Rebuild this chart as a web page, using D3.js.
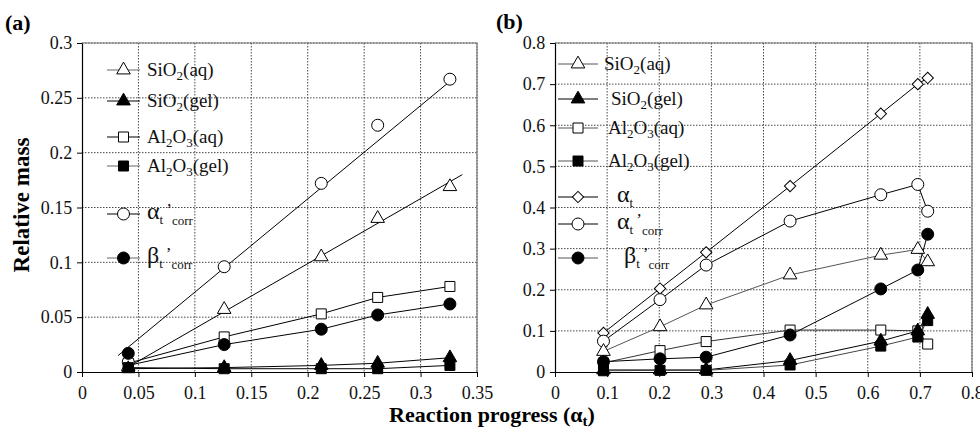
<!DOCTYPE html>
<html><head><meta charset="utf-8">
<script src="https://cdn.jsdelivr.net/npm/d3@7"></script>
<style>body{margin:0;background:#fff}svg{display:block}</style>
</head><body><svg id="c" width="980" height="431"></svg>
<script>
// ---------- DATA ----------
const aX = [0.041, 0.126, 0.212, 0.262, 0.326];
const aSiO2aq = [0.005, 0.057, 0.105, 0.140, 0.169];
const aSiO2gel = [0.003, 0.004, 0.006, 0.008, 0.013];
const aAl2O3aq = [0.008, 0.032, 0.053, 0.068, 0.078];
const aAl2O3gel = [0.004, 0.003, 0.003, 0.003, 0.006];
const aAlphaCorr = [0.009, 0.096, 0.172, 0.225, 0.267];
const aBetaCorr = [0.017, 0.025, 0.039, 0.052, 0.062];
// fitted / drawn lines in panel (a)
const aFitAlphaX = [0.032, 0.326], aFitAlphaY = [0.015, 0.265];
const aFitSiO2X = [0.045, 0.337], aFitSiO2Y = [0.007, 0.180];
const aBetaLineY = [0.006, 0.025, 0.039, 0.052, 0.062];

const bX = [0.093, 0.2015, 0.29, 0.451, 0.625, 0.696, 0.715];
const bSiO2aq = [0.050, 0.110, 0.163, 0.236, 0.284, 0.298, 0.268];
const bSiO2gel = [0.005, 0.005, 0.005, 0.028, 0.075, 0.100, 0.140];
const bAl2O3aq = [0.022, 0.052, 0.074, 0.102, 0.102, 0.100, 0.068];
const bAl2O3gel = [0.003, 0.004, 0.004, 0.017, 0.063, 0.085, 0.125];
const bAlphaT = [0.095, 0.203, 0.291, 0.452, 0.628, 0.700, 0.715];
const bAlphaCorr = [0.075, 0.176, 0.260, 0.367, 0.431, 0.456, 0.391];
const bBetaCorr = [0.025, 0.032, 0.036, 0.090, 0.202, 0.248, 0.335];

const aXTicks = [0, 0.05, 0.1, 0.15, 0.2, 0.25, 0.3, 0.35];
const aYTicks = [0, 0.05, 0.1, 0.15, 0.2, 0.25, 0.3];
const bXTicks = [0, 0.1, 0.2, 0.3, 0.4, 0.5, 0.6, 0.7, 0.8];
const bYTicks = [0, 0.1, 0.2, 0.3, 0.4, 0.5, 0.6, 0.7, 0.8];

// ---------- DRAW ----------
const FONT = "'Liberation Serif'";
const svg = d3.select("#c");

const sym = {
  triO: {type: d3.symbolTriangle, size: 80, fill: "#fff"},
  triF: {type: d3.symbolTriangle, size: 80, fill: "#000"},
  sqO: {type: d3.symbolSquare, size: 100, fill: "#fff"},
  sqF: {type: d3.symbolSquare, size: 100, fill: "#000"},
  cirO: {type: d3.symbolCircle, size: 113, fill: "#fff"},
  cirF: {type: d3.symbolCircle, size: 113, fill: "#000"},
  dia: {type: d3.symbolSquare, size: 64, fill: "#fff", rot: 45}
};
function drawSym(g, s, x, y) {
  g.append("path").attr("d", d3.symbol().type(s.type).size(s.size)())
    .attr("transform", `translate(${x},${y})` + (s.rot ? ` rotate(${s.rot})` : ""))
    .attr("fill", s.fill).attr("stroke", "#000").attr("stroke-width", 1);
}

function panel(cfg) {
  const x = d3.scaleLinear().domain(cfg.xd).range([cfg.x0, cfg.x1]);
  const y = d3.scaleLinear().domain(cfg.yd).range([cfg.y1, cfg.y0]);
  const g = svg.append("g");
  g.selectAll(".gx").data(cfg.xt.slice(1)).join("line")
    .attr("x1", d => x(d)).attr("x2", d => x(d)).attr("y1", cfg.y0).attr("y2", cfg.y1)
    .attr("stroke", "#333").attr("stroke-dasharray", "1.5,1.5").attr("stroke-width", 0.9);
  g.selectAll(".gy").data(cfg.yt.slice(1)).join("line")
    .attr("y1", d => y(d)).attr("y2", d => y(d)).attr("x1", cfg.x0).attr("x2", cfg.x1)
    .attr("stroke", "#333").attr("stroke-dasharray", "1.5,1.5").attr("stroke-width", 0.9);
  g.append("path").attr("d", `M${cfg.x0},${cfg.y0}H${cfg.x1}V${cfg.y1}`)
    .attr("fill", "none").attr("stroke", "#777").attr("stroke-width", 1.2);
  const ax = g.append("g").attr("transform", `translate(0,${cfg.y1})`)
    .call(d3.axisBottom(x).tickValues(cfg.xt).tickSize(5).tickSizeOuter(0).tickFormat(d3.format("~g")));
  const ay = g.append("g").attr("transform", `translate(${cfg.x0},0)`)
    .call(d3.axisLeft(y).tickValues(cfg.yt).tickSize(5).tickSizeOuter(0).tickFormat(d3.format("~g")));
  [ax, ay].forEach(a => {
    a.attr("font-size", 18);
    a.select(".domain").attr("stroke", "#000").attr("stroke-width", 1.2);
    a.selectAll("text").attr("fill", "#111").style("font-size", "18px");
  });
  ax.selectAll("text").attr("dy", "1.05em");
  ay.selectAll("text").attr("dx", "-0.1em");
  const line = d3.line().x(d => x(d[0])).y(d => y(d[1]));
  cfg.lines.forEach(l => {
    g.append("path").attr("d", line(d3.zip(l.x, l.y))).attr("fill", "none")
      .attr("stroke", l.c || "#000").attr("stroke-width", l.w || 1);
  });
  cfg.series.forEach(s => {
    s.y.forEach((v, i) => drawSym(g, sym[s.sym], x(cfg.xs[i]), y(v)));
  });
  return {x, y, g};
}

panel({
  x0: 82, x1: 477, y0: 43, y1: 372, xd: [0, 0.35], yd: [0, 0.3], xt: aXTicks, yt: aYTicks, xs: aX,
  lines: [
    {x: aFitAlphaX, y: aFitAlphaY},
    {x: aFitSiO2X, y: aFitSiO2Y},
    {x: aX, y: aAl2O3aq},
    {x: aX, y: aBetaLineY},
    {x: aX, y: aSiO2gel},
    {x: aX, y: aAl2O3gel}
  ],
  series: [
    {y: aSiO2aq, sym: "triO"}, {y: aAl2O3aq, sym: "sqO"}, {y: aAlphaCorr, sym: "cirO"},
    {y: aBetaCorr, sym: "cirF"}, {y: aSiO2gel, sym: "triF"}, {y: aAl2O3gel, sym: "sqF"}
  ]
});

panel({
  x0: 555, x1: 972, y0: 43, y1: 372, xd: [0, 0.8], yd: [0, 0.8], xt: bXTicks, yt: bYTicks, xs: bX,
  lines: [
    {x: bX, y: bAlphaT}, {x: bX, y: bAlphaCorr}, {x: bX, y: bSiO2aq, c: "#555"},
    {x: bX, y: bAl2O3aq, c: "#333"}, {x: bX, y: bBetaCorr}, {x: bX, y: bSiO2gel},
    {x: bX, y: bAl2O3gel, c: "#444"}
  ],
  series: [
    {y: bAlphaT, sym: "dia"}, {y: bAlphaCorr, sym: "cirO"}, {y: bSiO2aq, sym: "triO"},
    {y: bAl2O3aq, sym: "sqO"}, {y: bBetaCorr, sym: "cirF"}, {y: bSiO2gel, sym: "triF"},
    {y: bAl2O3gel, sym: "sqF"}
  ]
});

// ---------- LEGENDS ----------
function chem(t, x, y, parts) {
  const tx = t.append("text").attr("x", x).attr("y", y).attr("font-size", 19).attr("fill", "#111");
  parts.forEach(p => {
    const s = tx.append("tspan").text(p[0]);
    if (p[1] === "sub") s.attr("font-size", 13).attr("dy", 4);
    else if (p[1] === "up") s.attr("dy", -4);
  });
}
const lbl = {
  SiO2aq: [["SiO"], ["2", "sub"], ["(aq)", "up"]],
  SiO2gel: [["SiO"], ["2", "sub"], ["(gel)", "up"]],
  Al2O3aq: [["Al"], ["2", "sub"], ["O", "up"], ["3", "sub"], ["(aq)", "up"]],
  Al2O3gel: [["Al"], ["2", "sub"], ["O", "up"], ["3", "sub"], ["(gel)", "up"]]
};
function greek(g, x, y, ch, corr) {
  const t = g.append("text").attr("x", x).attr("y", y).attr("fill", "#111");
  t.append("tspan").text(ch).attr("font-size", 24);
  t.append("tspan").text("t").attr("font-size", 13).attr("dy", 5);
  if (corr) {
    t.append("tspan").text("’").attr("font-size", 17).attr("dx", 3).attr("dy", -9);
    t.append("tspan").text("corr").attr("font-size", 13).attr("dy", 10);
  }
}
function legend(items, lx0, lx1) {
  const g = svg.append("g");
  items.forEach(it => {
    g.append("line").attr("x1", lx0).attr("x2", lx1).attr("y1", it.y).attr("y2", it.y)
      .attr("stroke", it.lc || "#000").attr("stroke-width", 1);
    drawSym(g, sym[it.sym], (lx0 + lx1) / 2, it.y);
    if (it.chem) chem(g, it.tx, it.y + 6, lbl[it.chem]);
    else greek(g, it.tx, it.y + 5, it.g, it.corr);
  });
}
legend([
  {y: 70, sym: "triO", chem: "SiO2aq", tx: 147, lc: "#666"},
  {y: 101, sym: "triF", chem: "SiO2gel", tx: 147},
  {y: 137, sym: "sqO", chem: "Al2O3aq", tx: 147},
  {y: 166, sym: "sqF", chem: "Al2O3gel", tx: 147, lc: "#666"},
  {y: 214, sym: "cirO", g: "α", corr: true, tx: 147},
  {y: 258, sym: "cirF", g: "β", corr: true, tx: 147, lc: "#666"}
], 107, 140);
legend([
  {y: 64, sym: "triO", chem: "SiO2aq", tx: 604, lc: "#555"},
  {y: 99, sym: "triF", chem: "SiO2gel", tx: 611},
  {y: 128, sym: "sqO", chem: "Al2O3aq", tx: 608, lc: "#555"},
  {y: 161, sym: "sqF", chem: "Al2O3gel", tx: 608, lc: "#555"},
  {y: 197, sym: "dia", g: "α", corr: false, tx: 617},
  {y: 224, sym: "cirO", g: "α", corr: true, tx: 617},
  {y: 258, sym: "cirF", g: "β", corr: true, tx: 624, lc: "#555"}
], 558, 598);

// ---------- LABELS ----------
svg.append("text").attr("x", 5).attr("y", 30).attr("font-size", 22).attr("font-weight", "bold").text("(a)");
svg.append("text").attr("x", 496).attr("y", 29).attr("font-size", 22).attr("font-weight", "bold").text("(b)");
svg.append("text").attr("transform", "translate(29,205) rotate(-90)").attr("text-anchor", "middle")
  .attr("font-size", 23).attr("font-weight", "bold").text("Relative mass");
const xl = svg.append("text").attr("x", 492).attr("y", 422).attr("text-anchor", "middle")
  .attr("font-size", 22).attr("font-weight", "bold");
xl.append("tspan").text("Reaction progress (α");
xl.append("tspan").text("t").attr("font-size", 15).attr("dy", 4);
xl.append("tspan").text(")").attr("dy", -4);

// force serif font on every text element
svg.selectAll("text").style("font-family", FONT);
</script></body></html>
